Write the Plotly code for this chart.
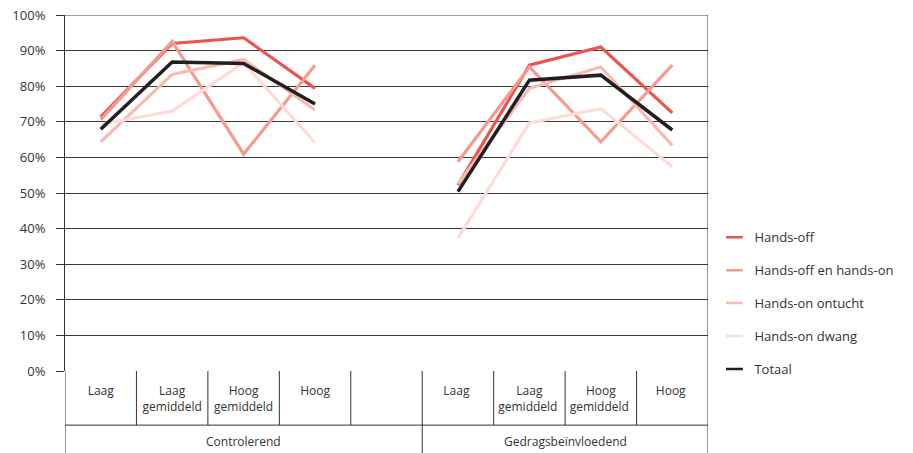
import plotly.graph_objects as go

categories = ["Laag", "Laag<br>gemiddeld", "Hoog<br>gemiddeld", "Hoog", " ",
              "Laag ", "Laag<br>gemiddeld ", "Hoog<br>gemiddeld ", "Hoog "]
groups = ["Controlerend", "Gedragsbeïnvloedend"]
group_sizes = [5, 4]

hands_off = [71.4, 92.0, 93.6, 79.4, None, 52.2, 85.9, 91.0, 72.5]
hands_off_en_on = [70.6, 92.6, 60.9, 85.9, None, 58.8, 85.4, 64.4, 85.9]
hands_on_ontucht = [64.4, 83.3, 87.5, 73.3, None, 52.6, 79.4, 85.4, 63.4]
hands_on_dwang = [69.3, 73.0, 86.6, 64.1, None, 37.3, 69.7, 73.7, 57.4]
totaal = [67.9, 86.8, 86.4, 75.0, None, 50.4, 81.7, 83.1, 67.7]

series_names = ["Hands-off", "Hands-off en hands-on", "Hands-on ontucht", "Hands-on dwang", "Totaal"]
series_values = [hands_off, hands_off_en_on, hands_on_ontucht, hands_on_dwang, totaal]
colors = ["#EC544C", "#F59A8E", "#F9BAB1", "#FDDCD7", "#231F20"]
y_ticks = list(range(0, 101, 10))

FONT = "Open Sans"

fig = go.Figure()
for name, vals, col in zip(series_names, series_values, colors):
    fig.add_trace(go.Scatter(
        x=categories, y=vals, mode="lines", name=name,
        line=dict(color=col, width=3.5 if name == "Totaal" else 3.2),
        connectgaps=False, showlegend=False, hoverinfo="x+y+name"))
for i, (name, col) in enumerate(zip(series_names, colors)):
    fig.add_trace(go.Scatter(
        x=[None], y=[None], mode="markers", name=name, legendgroup=str(i),
        marker=dict(symbol="line-ew-open", size=12, color=col, line=dict(color=col, width=2.5)),
        showlegend=True))

n = len(categories)
line_col = "#333333"
shapes = []
for i in range(n + 1):
    shapes.append(dict(type="line", xref="x", yref="paper", x0=i - 0.5, x1=i - 0.5,
                       y0=0, y1=-0.152, line=dict(color=line_col, width=1)))
shapes.append(dict(type="line", xref="x", yref="paper", x0=-0.5, x1=n - 0.5,
                   y0=-0.152, y1=-0.152, line=dict(color=line_col, width=1)))
start = 0
bounds = [0]
for s in group_sizes:
    start += s
    bounds.append(start)
for b in bounds:
    shapes.append(dict(type="line", xref="x", yref="paper", x0=b - 0.5, x1=b - 0.5,
                       y0=-0.152, y1=-0.235, line=dict(color=line_col, width=1)))
shapes.append(dict(type="line", xref="x", yref="paper", x0=n - 0.5, x1=n - 0.5,
                   y0=0, y1=1, line=dict(color=line_col, width=1)))
shapes.append(dict(type="line", xref="x", yref="y", x0=-0.5, x1=n - 0.5,
                   y0=100, y1=100, line=dict(color="#3a3a3a", width=1)))

annotations = []
for g, a, b in zip(groups, bounds[:-1], bounds[1:]):
    annotations.append(dict(x=(a + b - 1) / 2, xref="x", y=-0.197, yref="paper",
                            text=g, showarrow=False, yanchor="middle",
                            font=dict(family=FONT, size=12, color="#333333")))

fig.update_layout(
    width=913, height=453,
    margin=dict(l=65, r=205, t=15, b=82, autoexpand=False),
    paper_bgcolor="white", plot_bgcolor="white",
    font=dict(family=FONT, size=12, color="#333333"),
    xaxis=dict(type="category", categoryorder="array", categoryarray=categories,
               range=[-0.5, n - 0.5], showgrid=False, zeroline=False, automargin=False,
               showline=False, ticks="", tickfont=dict(family=FONT, size=12, color="#333333"),
               ticklabelstandoff=11),
    yaxis=dict(range=[0, 100], tickvals=y_ticks, ticktext=[f"{v}%" for v in y_ticks],
               showgrid=True, gridcolor="#3a3a3a", gridwidth=1, zeroline=False,
               showline=True, linecolor=line_col, linewidth=1, automargin=False,
               ticks="outside", ticklen=8, tickcolor=line_col, ticklabeloverflow="allow",
               tickfont=dict(family=FONT, size=13, color="#333333"), ticklabelstandoff=8),
    legend=dict(x=1.01, xanchor="left", y=0.19, yanchor="middle",
                font=dict(family=FONT, size=13, color="#333333"),
                tracegroupgap=13, itemwidth=30, bgcolor="rgba(0,0,0,0)"),
    shapes=shapes, annotations=annotations,
)

fig.write_html("out.html", config={"displayModeBar": False},
               post_script="document.body.style.margin='0';document.body.style.overflow='hidden';")
